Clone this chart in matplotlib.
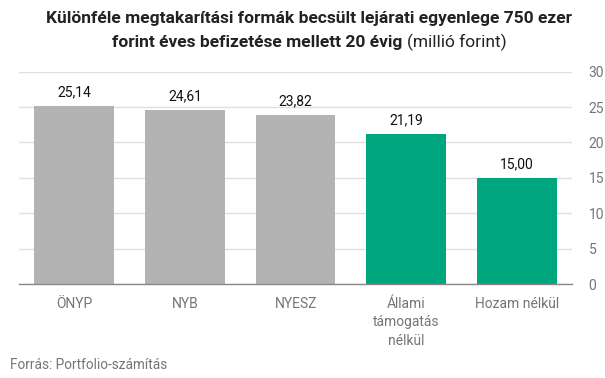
import matplotlib
matplotlib.use("Agg")
import matplotlib.pyplot as plt

categories = ["ÖNYP", "NYB", "NYESZ", "Állami\ntámogatás\nnélkül", "Hozam nélkül"]
values = [25.14, 24.61, 23.82, 21.19, 15.00]
value_labels = ["25,14", "24,61", "23,82", "21,19", "15,00"]
colors = ["#b3b3b3", "#b3b3b3", "#b3b3b3", "#00a67e", "#00a67e"]
yticks = [0, 5, 10, 15, 20, 25, 30]

plt.rcParams['font.family'] = ['Roboto', 'DejaVu Sans']

fig = plt.figure(figsize=(6.05, 3.78), dpi=100)
ax = fig.add_axes([19/605, 1-284/378, (572-19)/605, (284-71.7)/378])

x = list(range(len(categories)))
ax.bar(x, values, width=0.72, color=colors, zorder=2)
ax.set_xlim(-0.5, 4.5)
ax.set_ylim(0, 30)
ax.set_yticks(yticks)
ax.set_yticklabels([str(t) for t in yticks])
ax.yaxis.tick_right()
ax.tick_params(axis='y', length=0, pad=12, labelsize=10, labelcolor="#757575")
ax.set_xticks(x)
ax.set_xticklabels(categories, linespacing=1.45)
ax.tick_params(axis='x', length=0, pad=9, labelsize=10, labelcolor="#757575")
ax.grid(axis='y', color="#e0e0e0", linewidth=1, zorder=0)
for s in ["top", "right", "left"]:
    ax.spines[s].set_visible(False)
ax.spines["bottom"].set_color("#888888")
ax.spines["bottom"].set_linewidth(1)
ax.spines["bottom"].set_zorder(3)

for xi, v, lab in zip(x, values, value_labels):
    ax.annotate(lab, (xi, v), xytext=(0, 5), textcoords="offset points",
                ha="center", va="bottom", fontsize=10, color="#111111")

# Title
tsize = 12.5
fig.text(309.5/605, 1-18/378, "Különféle megtakarítási formák becsült lejárati egyenlege 750 ezer",
         ha="center", va="center", fontsize=tsize, fontweight="bold", color="#222222")
fig.canvas.draw()
r = fig.canvas.get_renderer()
t1 = fig.text(0, 1-42/378, "forint éves befizetése mellett 20 évig ", ha="left", va="center",
              fontsize=tsize, fontweight="bold", color="#222222")
t2 = fig.text(0, 1-42/378, "(millió forint)", ha="left", va="center",
              fontsize=tsize, color="#222222")
w1 = t1.get_window_extent(r).width
w2 = t2.get_window_extent(r).width
W = fig.bbox.width
start = 309.5 - (w1 + w2) / 2
t1.set_x(start / W)
t2.set_x((start + w1) / W)

fig.text(10/605, 1-365/378, "Forrás: Portfolio-számítás", ha="left", va="center",
         fontsize=9.8, color="#757575")

fig.savefig("out.png", dpi=100)
